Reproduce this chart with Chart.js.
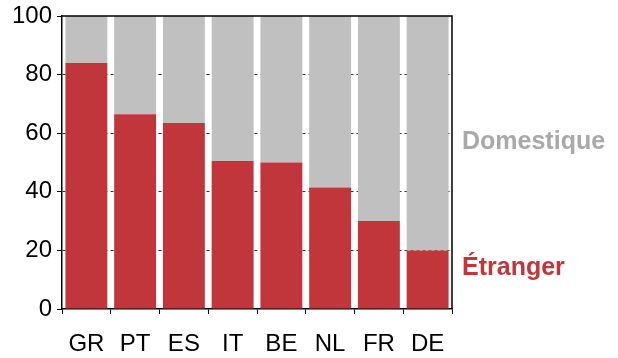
<!DOCTYPE html>
<html>
<head>
<meta charset="utf-8">
<script src="https://cdn.jsdelivr.net/npm/chart.js@4.4.0/dist/chart.umd.min.js"></script>
<style>
  html, body { margin: 0; padding: 0; background: #fff; }
  #wrap { width: 618px; height: 358px; position: relative; }
</style>
</head>
<body>
<div id="wrap"><canvas id="chart" width="618" height="358"></canvas></div>
<script>
const countries = ['GR', 'PT', 'ES', 'IT', 'BE', 'NL', 'FR', 'DE'];
const etranger = [84, 66.5, 63.5, 50.5, 50, 41.5, 30, 20];
const domestique = [16, 33.5, 36.5, 49.5, 50, 58.5, 70, 80];
const yTicks = [0, 20, 40, 60, 80, 100];

const red = '#c0363a';
const grey = '#c0c0c0';
const tickFont = { family: '"Liberation Sans", Arial, sans-serif', size: 24 };

// frame on top/right + series labels at the right
const framePlugin = {
  id: 'frame',
  afterDraw(chart) {
    const ctx = chart.ctx;
    const a = chart.chartArea;
    const y = chart.scales.y;
    ctx.save();
    ctx.strokeStyle = '#000';
    ctx.lineWidth = 1.5;
    ctx.beginPath();
    ctx.moveTo(a.left, a.top);
    ctx.lineTo(a.right, a.top);
    ctx.lineTo(a.right, a.bottom);
    ctx.stroke();
    ctx.font = 'bold 25px "Liberation Sans", Arial, sans-serif';
    ctx.textBaseline = 'middle';
    ctx.textAlign = 'left';
    ctx.fillStyle = '#a9a9a9';
    ctx.fillText('Domestique', a.right + 10, y.getPixelForValue(57));
    ctx.fillStyle = red;
    ctx.fillText('Étranger', a.right + 10, y.getPixelForValue(14));
    ctx.restore();
  }
};

new Chart(document.getElementById('chart'), {
  type: 'bar',
  data: {
    labels: countries,
    datasets: [
      { label: 'Étranger', data: etranger, backgroundColor: red, barPercentage: 0.86, categoryPercentage: 1 },
      { label: 'Domestique', data: domestique, backgroundColor: grey, barPercentage: 0.86, categoryPercentage: 1 }
    ]
  },
  options: {
    responsive: false,
    animation: false,
    layout: { padding: { top: 16, right: 166, left: 0, bottom: 0 } },
    plugins: { legend: { display: false }, tooltip: { enabled: false } },
    scales: {
      x: {
        stacked: true,
        afterFit(s) { s.height = 49; s.paddingLeft = 0; s.paddingRight = 0; },
        grid: { offset: true, drawOnChartArea: false, tickLength: 5, tickColor: '#000', tickWidth: 1 },
        border: { color: '#000', width: 1.5 },
        ticks: { color: '#000', padding: 16, font: tickFont }
      },
      y: {
        stacked: true,
        min: 0,
        max: 100,
        afterFit(s) { s.width = 62; s.paddingTop = 0; s.paddingBottom = 0; },
        afterBuildTicks(s) { s.ticks = yTicks.map(v => ({ value: v })); },
        grid: {
          color: c => (c.tick && (c.tick.value === 0 || c.tick.value === 100)) ? 'rgba(0,0,0,0)' : '#333',
          lineWidth: 1,
          tickColor: '#000',
          tickLength: 5,
          tickWidth: 1
        },
        border: { color: '#000', width: 1.5, dash: [3, 3] },
        ticks: { color: '#000', padding: 5, font: tickFont }
      }
    }
  },
  plugins: [framePlugin]
});
</script>
</body>
</html>
